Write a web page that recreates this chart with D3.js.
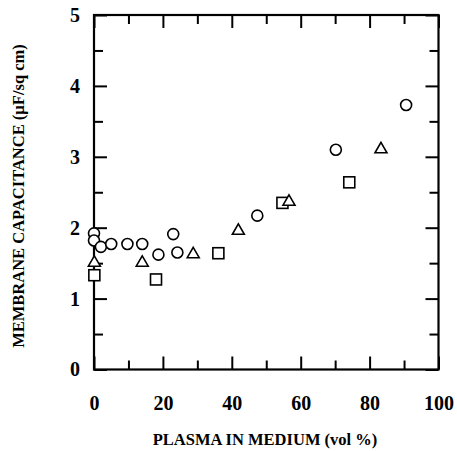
<!DOCTYPE html>
<html>
<head>
<meta charset="utf-8">
<script src="https://cdn.jsdelivr.net/npm/d3@7"></script>
<style>
  body { margin: 0; background: #fff; }
  svg { display: block; }
  text { font-family: "Liberation Serif", "Times New Roman", serif; font-weight: bold; fill: #000; }
</style>
</head>
<body>
<svg id="chart" width="457" height="451"></svg>
<script>
// values: plasma (vol %) vs membrane capacitance (uF/sq cm)
var circle_x = [0, 0, 2, 5, 9.7, 14, 18.7, 23, 24.2, 47.4, 70.2, 90.6];
var circle_y = [1.92, 1.82, 1.73, 1.77, 1.77, 1.77, 1.62, 1.91, 1.65, 2.17, 3.10, 3.73];

var triangle_x = [0.1, 14, 28.8, 41.9, 56.6, 83.3];
var triangle_y = [1.52, 1.52, 1.64, 1.97, 2.38, 3.12];

var square_x = [0.1, 18, 36.1, 54.7, 74.1];
var square_y = [1.33, 1.27, 1.64, 2.35, 2.64];

var x_major = [0, 20, 40, 60, 80, 100];
var x_minor = [10, 30, 50, 70, 90];
var y_major = [0, 1, 2, 3, 4, 5];
var y_minor = [0.5, 1.5, 2.5, 3.5, 4.5];

var x_title = "PLASMA IN MEDIUM (vol %)";
var y_title = "MEMBRANE CAPACITANCE (\u00b5F/sq cm)";

var svg = d3.select("#chart");
var plot_left = 94, plot_right = 438.5, plot_top = 15, plot_bottom = 369.5;

var x = d3.scaleLinear().domain([0, 100]).range([plot_left, plot_right]);
var y = d3.scaleLinear().domain([0, 5]).range([plot_bottom, plot_top]);

function draw_axis(axis, tx, ty) {
  var g = svg.append("g")
    .attr("transform", "translate(" + tx + "," + ty + ")")
    .call(axis);
  g.select(".domain").remove();
  g.attr("font-family", null);
  g.selectAll("line").attr("stroke", "#000").attr("stroke-width", 2);
  return g;
}

// bottom
draw_axis(d3.axisBottom(x).tickValues(x_major).tickSize(-13).tickPadding(26), 0, plot_bottom)
  .selectAll("text").attr("font-size", 20);
draw_axis(d3.axisBottom(x).tickValues(x_minor).tickSize(-9).tickFormat(""), 0, plot_bottom);
// top
draw_axis(d3.axisTop(x).tickValues(x_major).tickSize(-13).tickFormat(""), 0, plot_top);
draw_axis(d3.axisTop(x).tickValues(x_minor).tickSize(-9).tickFormat(""), 0, plot_top);
// left
draw_axis(d3.axisLeft(y).tickValues(y_major).tickFormat(d3.format("d")).tickSize(-13).tickPadding(14), plot_left, 0)
  .selectAll("text").attr("font-size", 20);
draw_axis(d3.axisLeft(y).tickValues(y_minor).tickSize(-9).tickFormat(""), plot_left, 0);
// right
draw_axis(d3.axisRight(y).tickValues(y_major).tickSize(-13).tickFormat(""), plot_right, 0);
draw_axis(d3.axisRight(y).tickValues(y_minor).tickSize(-9).tickFormat(""), plot_right, 0);

// frame
svg.append("rect")
  .attr("x", plot_left).attr("y", plot_top)
  .attr("width", plot_right - plot_left).attr("height", plot_bottom - plot_top)
  .attr("fill", "none").attr("stroke", "#000").attr("stroke-width", 2.2);

// titles
svg.append("text")
  .attr("x", 265).attr("y", 445)
  .attr("text-anchor", "middle").attr("font-size", 16.5)
  .text(x_title);

svg.append("text")
  .attr("transform", "translate(24,196) rotate(-90)")
  .attr("text-anchor", "middle").attr("font-size", 16.5)
  .text(y_title);

// markers
var marks = svg.append("g").attr("fill", "#fff").attr("stroke", "#000").attr("stroke-width", 1.6);

marks.selectAll("rect.sq")
  .data(d3.range(square_x.length))
  .enter()
  .append("rect")
    .attr("class", "sq")
    .attr("x", function(i) { return x(square_x[i]) - 5.5; })
    .attr("y", function(i) { return y(square_y[i]) - 5.5; })
    .attr("width", 11).attr("height", 11);

var tri = d3.symbol().type(d3.symbolTriangle).size(62);
marks.selectAll("path.tri")
  .data(d3.range(triangle_x.length))
  .enter()
  .append("path")
    .attr("class", "tri")
    .attr("d", tri)
    .attr("transform", function(i) {
      return "translate(" + x(triangle_x[i]) + "," + (y(triangle_y[i]) + 1) + ")";
    });

marks.selectAll("circle")
  .data(d3.range(circle_x.length))
  .enter()
  .append("circle")
    .attr("cx", function(i) { return x(circle_x[i]); })
    .attr("cy", function(i) { return y(circle_y[i]); })
    .attr("r", 5.5);
</script>
</body>
</html>
